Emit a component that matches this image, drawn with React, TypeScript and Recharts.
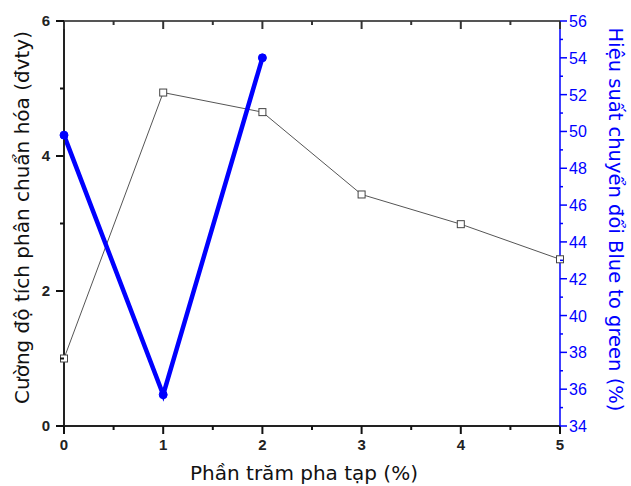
import React from "react";
import { LineChart, Line, XAxis, YAxis } from "recharts";

// doping percentage
const doping = [0, 1, 2, 3, 4, 5];
// normalized integrated intensity (a.u.)
const intensity = [1.0, 4.94, 4.65, 3.43, 2.99, 2.47];
// blue-to-green conversion efficiency (%)
const efficiency = [49.8, 35.7, 54.0, null, null, null];

const xTicks = [0, 0.5, 1, 1.5, 2, 2.5, 3, 3.5, 4, 4.5, 5];
const leftTicks = [0, 1, 2, 3, 4, 5, 6];
const rightTicks = [34, 35, 36, 37, 38, 39, 40, 41, 42, 43, 44, 45, 46, 47, 48, 49, 50, 51, 52, 53, 54, 55, 56];

const data = doping.map((d, i) => ({
  x: d,
  intensity: intensity[i],
  efficiency: efficiency[i],
}));

const BLUE = "#0000ff";
const tickFont = { fontFamily: "Liberation Sans, Arial, sans-serif", fontSize: 15, fontWeight: 700 };
const titleFont = "DejaVu Sans, Verdana, sans-serif";

// ticks are drawn by hand so the minor ones can be shorter and unlabelled
const BottomTick = (props: any) => {
  const { x, y, payload } = props;
  const major = Number.isInteger(payload.value);
  return (
    <g>
      <path d={`M${x},${y}V${y + (major ? 8 : 4)}`} stroke="#111" strokeWidth={2} />
      {major && (
        <text x={x} y={y + 24} textAnchor="middle" fill="#222" {...tickFont}>
          {payload.value}
        </text>
      )}
    </g>
  );
};

const TopTick = (props: any) => {
  const { x, y, payload } = props;
  const major = Number.isInteger(payload.value);
  return <path d={`M${x},${y}V${y + (major ? 8 : 4)}`} stroke="#333" strokeWidth={2} />;
};

const LeftTick = (props: any) => {
  const { x, y, payload } = props;
  const major = payload.value % 2 === 0;
  return (
    <g>
      <path d={`M${x},${y}H${x - (major ? 8 : 4)}`} stroke="#111" strokeWidth={2} />
      {major && (
        <text x={x - 14} y={y + 5} textAnchor="end" fill="#222" {...tickFont}>
          {payload.value}
        </text>
      )}
    </g>
  );
};

const RightTick = (props: any) => {
  const { x, y, payload } = props;
  const major = payload.value % 2 === 0;
  return (
    <g>
      <path d={`M${x},${y}H${x + (major ? 7 : 3)}`} stroke={BLUE} strokeWidth={1.5} />
      {major && (
        <text x={x + 9} y={y + 6} textAnchor="start" fill={BLUE} {...tickFont} fontWeight={400} fontSize={16}>
          {payload.value}
        </text>
      )}
    </g>
  );
};

const SquareDot = (props: any) => {
  const { cx, cy, index } = props;
  if (cx == null || cy == null) return <g key={index} />;
  return <rect key={index} x={cx - 3.5} y={cy - 3.5} width={7} height={7} fill="#fff" stroke="#444" strokeWidth={1} />;
};

export default function App() {
  return (
    <div style={{ position: "absolute", left: 0, top: 0, background: "#fff", width: 631, height: 486 }}>
      <LineChart width={631} height={486} data={data} margin={{ top: 20, right: 0, left: 0, bottom: 0 }}>
        <XAxis
          dataKey="x"
          type="number"
          domain={[0, 5]}
          ticks={xTicks}
          interval={0}
          tickSize={0}
          tickMargin={0}
          tick={<BottomTick />}
          height={60}
          axisLine={{ stroke: "#222", strokeWidth: 2 }}
          label={{
            value: "Phần trăm pha tạp (%)",
            position: "insideBottom",
            offset: 6,
            dx: -8,
            style: { fontFamily: titleFont, fontSize: 20, fill: "#111" },
          }}
        />
        <XAxis
          xAxisId="top"
          dataKey="x"
          type="number"
          orientation="top"
          domain={[0, 5]}
          ticks={xTicks}
          interval={0}
          tickSize={0}
          tickMargin={0}
          tick={<TopTick />}
          height={1}
          axisLine={{ stroke: "#555", strokeWidth: 2 }}
        />
        <YAxis
          yAxisId="left"
          domain={[0, 6]}
          ticks={leftTicks}
          interval={0}
          tickSize={0}
          tickMargin={0}
          tick={<LeftTick />}
          width={64}
          axisLine={{ stroke: "#222", strokeWidth: 2 }}
          label={{
            value: "Cường độ tích phân chuẩn hóa (đvty)",
            angle: -90,
            position: "insideLeft",
            offset: 22,
            dy: -6,
            style: { fontFamily: titleFont, fontSize: 20, fill: "#111", textAnchor: "middle" },
          }}
        />
        <YAxis
          yAxisId="right"
          orientation="right"
          domain={[34, 56]}
          ticks={rightTicks}
          interval={0}
          tickSize={0}
          tickMargin={0}
          tick={<RightTick />}
          width={71}
          axisLine={{ stroke: BLUE, strokeWidth: 1.5 }}
          label={{
            value: "Hiệu suất chuyển đổi Blue to green (%)",
            angle: 90,
            position: "insideRight",
            offset: 15,
            dy: -4,
            style: { fontFamily: titleFont, fontSize: 19.5, fill: BLUE, textAnchor: "middle" },
          }}
        />
        <Line
          yAxisId="left"
          dataKey="intensity"
          stroke="#555"
          strokeWidth={1}
          dot={<SquareDot />}
          activeDot={false}
          isAnimationActive={false}
        />
        <Line
          yAxisId="right"
          dataKey="efficiency"
          stroke={BLUE}
          strokeWidth={4.5}
          dot={{ r: 4, fill: BLUE, stroke: BLUE, strokeWidth: 1 }}
          activeDot={false}
          connectNulls={false}
          isAnimationActive={false}
        />
      </LineChart>
    </div>
  );
}
